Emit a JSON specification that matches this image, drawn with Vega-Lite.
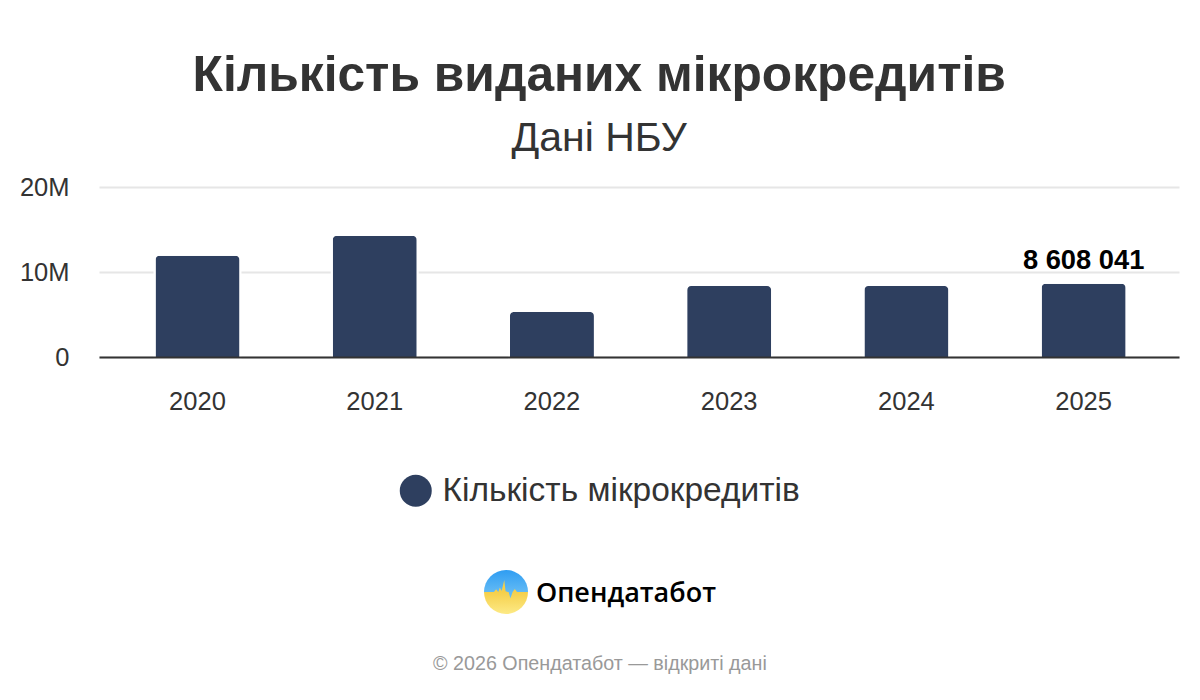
{
  "$schema": "https://vega.github.io/schema/vega-lite/v6.json",
  "background": "white",
  "padding": {"left": 19, "right": 20, "top": 51, "bottom": 10},
  "title": {
    "text": "Кількість виданих мікрокредитів",
    "subtitle": "Дані НБУ",
    "anchor": "middle",
    "font": "Liberation Sans",
    "fontSize": 49.7,
    "fontWeight": "bold",
    "color": "#333333",
    "subtitleFont": "Liberation Sans",
    "subtitleFontSize": 41,
    "subtitleColor": "#333333",
    "subtitlePadding": 17,
    "offset": 15
  },
  "spacing": 155,
  "vconcat": [
    {
      "width": 1080,
      "height": 170,
      "data": {
        "values": [
          {"year": "2020", "loans": 11900000, "series": "Кількість мікрокредитів"},
          {"year": "2021", "loans": 14250000, "series": "Кількість мікрокредитів"},
          {"year": "2022", "loans": 5300000, "series": "Кількість мікрокредитів"},
          {"year": "2023", "loans": 8350000, "series": "Кількість мікрокредитів"},
          {"year": "2024", "loans": 8350000, "series": "Кількість мікрокредитів"},
          {"year": "2025", "loans": 8608041, "series": "Кількість мікрокредитів", "label": "8 608 041"}
        ]
      },
      "encoding": {
        "x": {
          "field": "year",
          "type": "nominal",
          "title": null,
          "scale": {"paddingInner": 0.526, "paddingOuter": 0.31, "align": 0.514},
          "axis": {
            "labelAngle": 0,
            "labelFont": "Liberation Sans",
            "labelFontSize": 25.5,
            "labelColor": "#333333",
            "labelPadding": 32,
            "ticks": false,
            "domainColor": "#333333",
            "domainWidth": 2,
            "zindex": 1
          }
        },
        "y": {
          "field": "loans",
          "type": "quantitative",
          "title": null,
          "scale": {"domain": [0, 20000000]},
          "axis": {
            "values": [0, 10000000, 20000000],
            "labelExpr": "datum.value == 0 ? '0' : format(datum.value, '~s')",
            "labelFont": "Liberation Sans",
            "labelFontSize": 25.5,
            "labelColor": "#333333",
            "labelPadding": 30,
            "ticks": false,
            "domain": false,
            "gridColor": "#e6e6e6",
            "gridWidth": 2
          }
        }
      },
      "layer": [
        {
          "mark": {"type": "bar", "color": "white", "stroke": "white", "strokeWidth": 4}
        },
        {
          "mark": {"type": "bar", "cornerRadiusEnd": 4},
          "encoding": {
            "color": {
              "field": "series",
              "type": "nominal",
              "title": null,
              "scale": {"range": ["#2e3f5f"]},
              "legend": {
                "orient": "none",
                "legendX": 300,
                "legendY": 287,
                "symbolType": "circle",
                "symbolSize": 1024,
                "symbolStrokeWidth": 0,
                "symbolOpacity": 1,
                "labelFont": "Liberation Sans",
                "labelFontSize": 33.5,
                "labelColor": "#333333",
                "labelOffset": 10,
                "labelLimit": 500
              }
            }
          }
        },
        {
          "transform": [{"filter": "datum.label != null"}],
          "mark": {
            "type": "text",
            "baseline": "bottom",
            "dy": -9,
            "font": "Liberation Sans",
            "fontSize": 27.3,
            "fontWeight": "bold",
            "color": "#000000"
          },
          "encoding": {"text": {"field": "label"}}
        }
      ]
    },
    {
      "width": 1080,
      "height": 105,
      "encoding": {
        "x": {"field": "t", "type": "quantitative", "title": null, "axis": null, "scale": {"domain": [-18.5, 30.59], "nice": false, "zero": false}},
        "y": {"field": "v", "type": "quantitative", "title": null, "axis": null, "scale": {"domain": [-3.77, 1], "nice": false, "zero": false}}
      },
      "layer": [
        {
          "data": {"values": [{"t": 0, "v": 0}]},
          "mark": {
            "type": "point",
            "filled": true,
            "opacity": 1,
            "size": 1936,
            "shape": "circle",
            "color": {
              "gradient": "linear",
              "x1": 0, "y1": 0, "x2": 0, "y2": 1,
              "stops": [
                {"offset": 0, "color": "#2f9df2"},
                {"offset": 0.5, "color": "#62baf5"},
                {"offset": 0.5, "color": "#f5cf4a"},
                {"offset": 1, "color": "#fdea86"}
              ]
            }
          }
        },
        {
          "data": {
            "values": [
              {"t": -1, "v": 0},
              {"t": -0.55, "v": 0},
              {"t": -0.45, "v": 0.12},
              {"t": -0.35, "v": 0},
              {"t": -0.28, "v": 0.2},
              {"t": -0.2, "v": 0.05},
              {"t": -0.08, "v": 0.55},
              {"t": -0.02, "v": 0.03},
              {"t": 0.08, "v": 0},
              {"t": 0.3, "v": 0},
              {"t": 0.4, "v": 0.14},
              {"t": 0.5, "v": 0},
              {"t": 1, "v": 0}
            ]
          },
          "mark": {"type": "area", "color": "#f5cf4a"},
          "encoding": {"y2": {"datum": 0}}
        },
        {
          "data": {
            "values": [
              {"t": -0.02, "v": 0},
              {"t": 0.12, "v": 0},
              {"t": 0.2, "v": -0.28},
              {"t": 0.3, "v": 0}
            ]
          },
          "mark": {"type": "area", "color": "#62baf5"},
          "encoding": {"y2": {"datum": 0}}
        },
        {
          "data": {"values": [{"t": 1.36, "v": -0.09, "word": "Опендатабот"}]},
          "mark": {
            "type": "text",
            "align": "left",
            "baseline": "middle",
            "font": "Open Sans",
            "fontSize": 27,
            "fontWeight": 600,
            "color": "#000000"
          },
          "encoding": {"text": {"field": "word"}}
        },
        {
          "data": {"values": [{"t": 4.27, "v": -3.25, "note": "© 2026 Опендатабот — відкриті дані"}]},
          "mark": {"type": "text", "font": "Liberation Sans", "fontSize": 19.7, "color": "#999999"},
          "encoding": {"text": {"field": "note"}}
        }
      ]
    }
  ],
  "config": {"view": {"stroke": null}}
}
